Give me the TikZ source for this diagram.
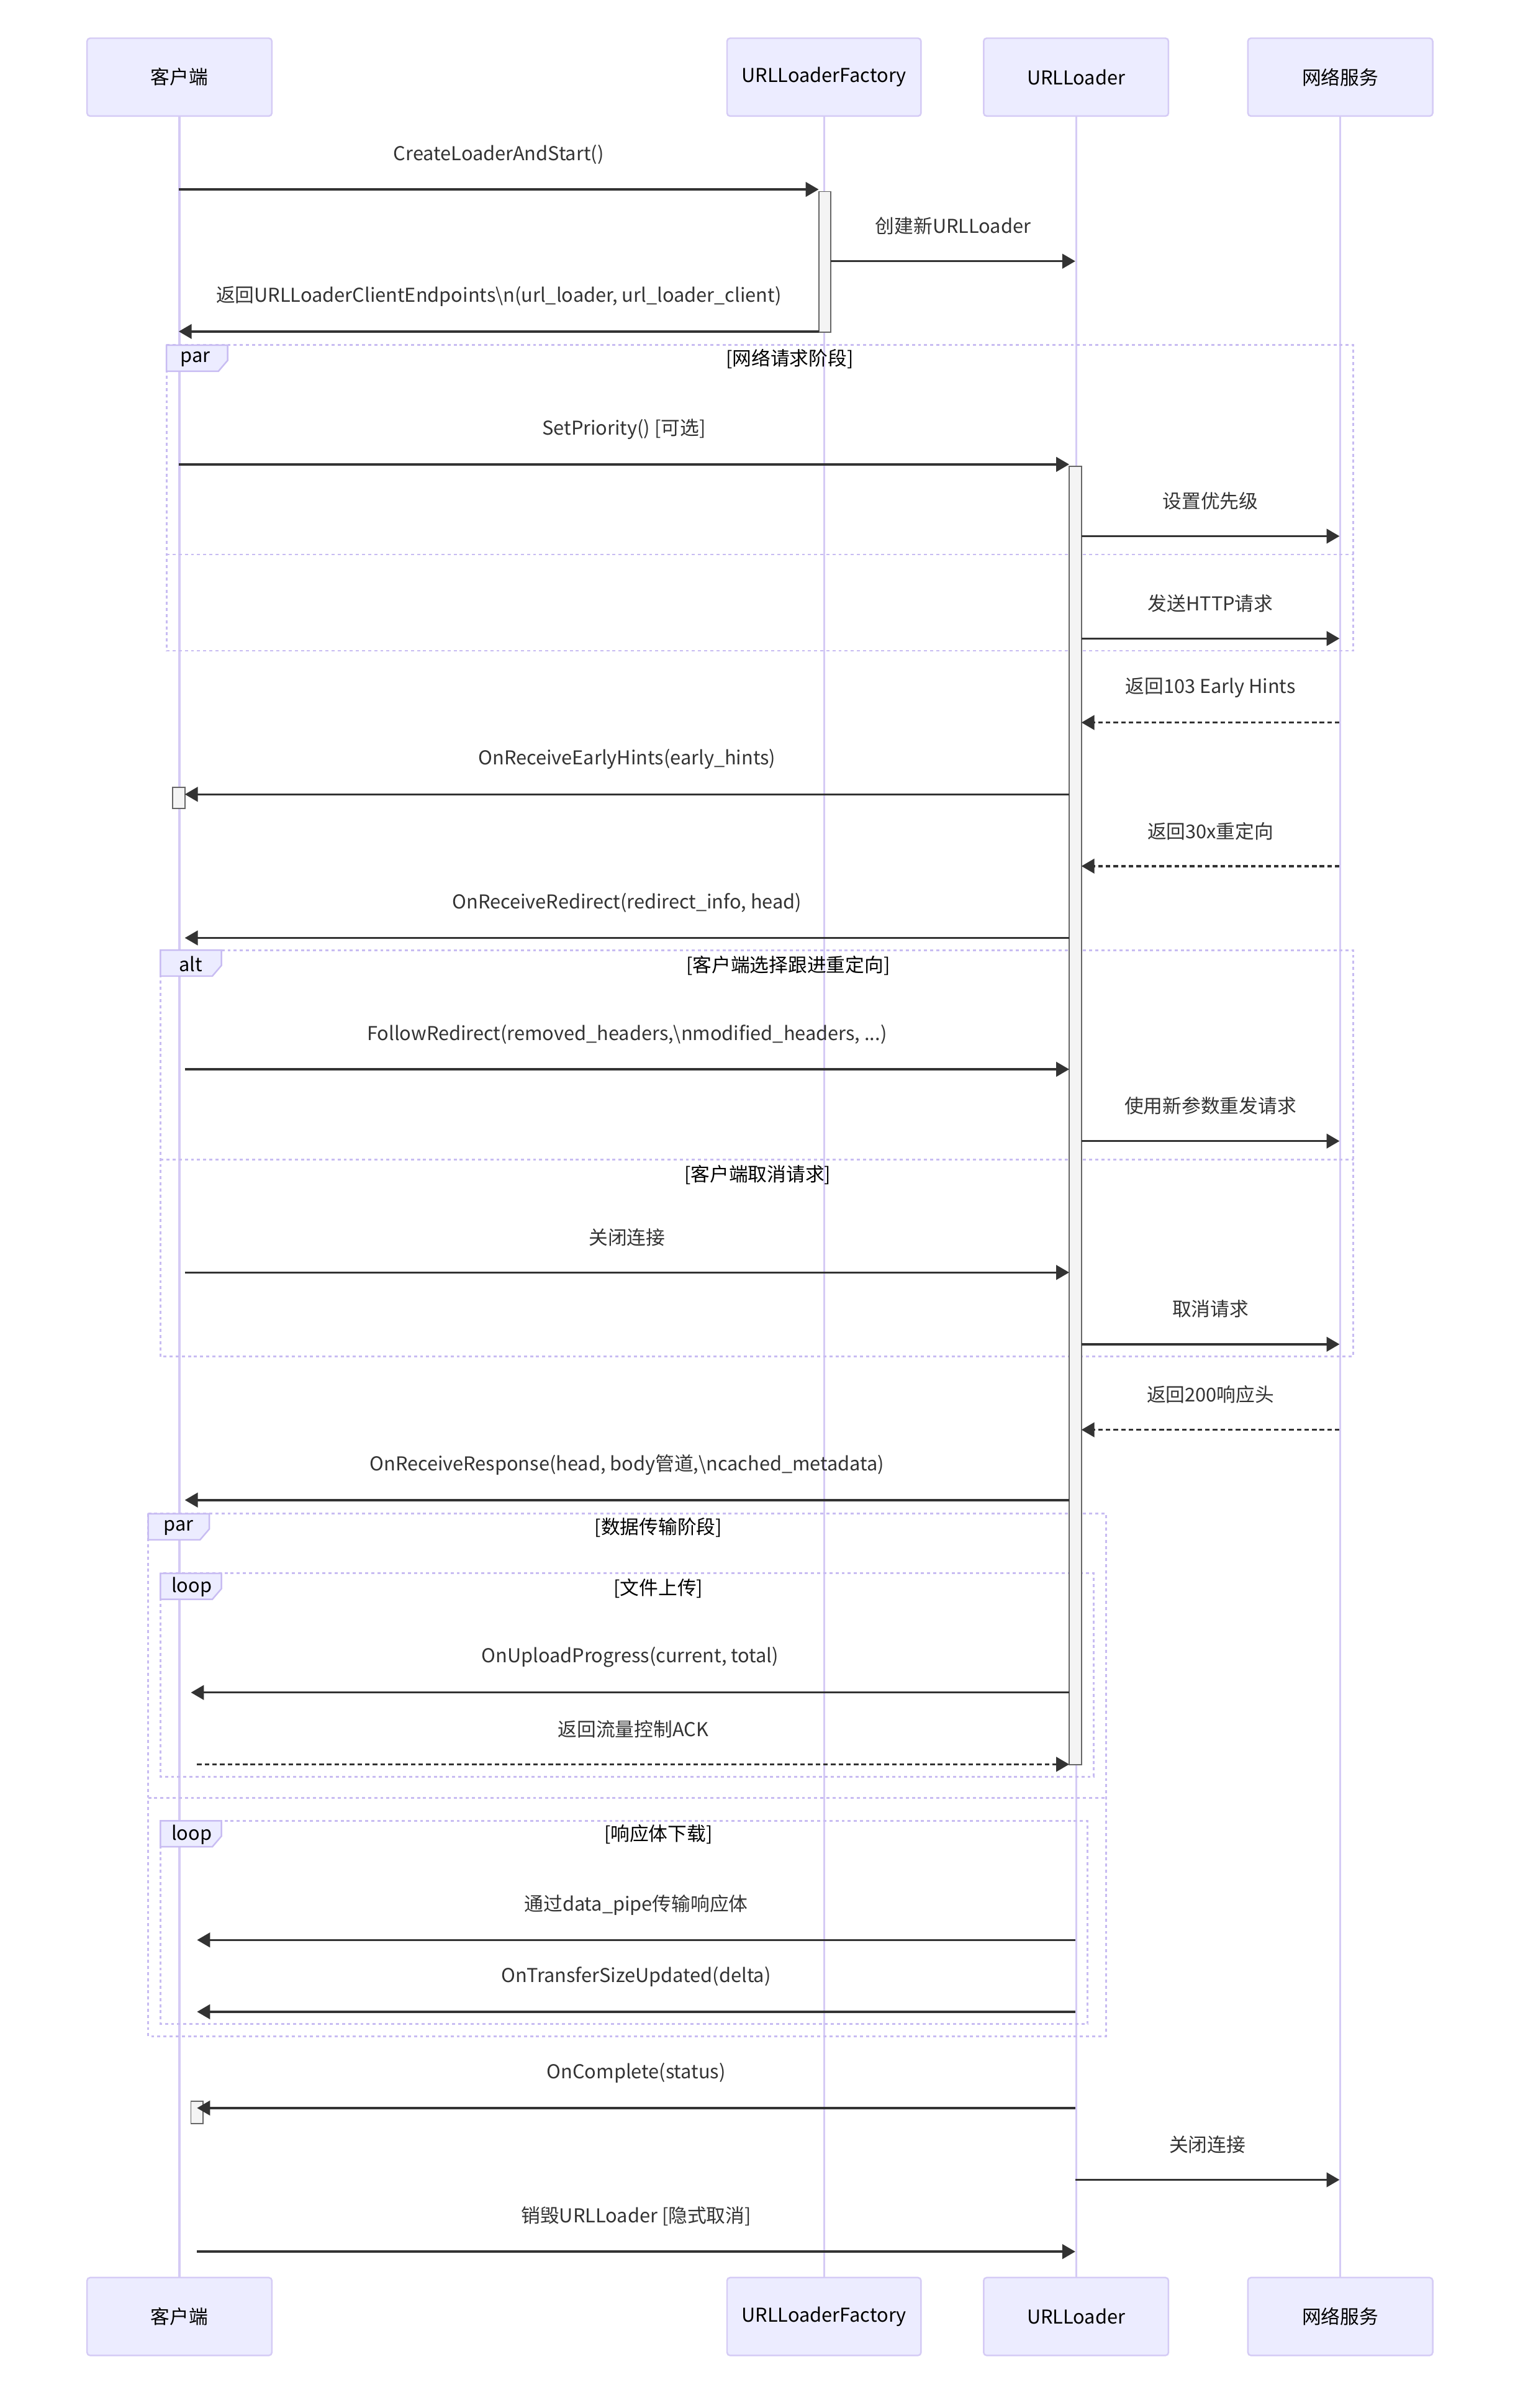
\documentclass[tikz,border=0pt]{standalone}
\usepackage{fontspec}
\setmainfont{Noto Sans CJK SC}
\usetikzlibrary{arrows.meta,calc}
\definecolor{actfill}{HTML}{ECECFF}
\definecolor{actline}{HTML}{D5CBF5}
\definecolor{lifeline}{HTML}{D5CBF5}
\definecolor{arrowc}{HTML}{333333}
\definecolor{labelc}{HTML}{333333}
\definecolor{frameline}{HTML}{C8BCF2}
\definecolor{actbg}{HTML}{F4F4F4}
\definecolor{actstroke}{HTML}{666666}
\newcommand\msg[6]{%
  \coordinate (#1s) at (#3,#2);
  \coordinate (#1e) at (#4,#2);
  \draw[#5] (#1s) -- (#1e);
  \node[lbl] (#1l) at ($(#1s)!0.5!(#1e)+(0,-23)$) {#6};
}
\newcommand\ftag[2]{% x, y
  \draw[ftagstyle] (#1,#2) -- ++(40,0) -- ++(0,10) -- ++(-6,7) -- ++(-34,0) -- cycle;
}
\begin{document}
\begin{tikzpicture}[x=1pt,y=-1pt,
  font=\fontsize{12.5}{15}\selectfont,
  actor/.style={draw=actline, fill=actfill, line width=1pt, rounded corners=2pt,
    minimum width=121pt, minimum height=51pt, inner sep=0pt, text=black},
  life/.style={draw=lifeline, line width=1.3pt},
  solidmsg/.style={draw=arrowc, line width=1.4pt, -{Triangle[length=8.5pt,width=9.5pt]}},
  dashmsg/.style={solidmsg, dash pattern=on 3pt off 2pt},
  lbl/.style={text=labelc, inner sep=1pt},
  act/.style={draw=actstroke, fill=actbg, line width=0.8pt, minimum width=8pt, inner sep=0pt, anchor=north},
  framebox/.style={draw=frameline, line width=1.2pt, dash pattern=on 2pt off 2pt},
  ftitle/.style={text=black, inner sep=1pt},
  ftagstyle/.style={draw=frameline, fill=actfill, line width=1pt},
  tagtext/.style={text=black, inner sep=0pt, anchor=west}
]
\fill[white] (0,0) rectangle (1000,1576.4);
\useasboundingbox (0,0) rectangle (1000,1576.4);

% actors
\node[actor] (cT) at (117.5,50.5) {客户端};
\node[actor, minimum width=127pt] (fT) at (539.5,50.5) {URLLoaderFactory};
\node[actor] (lT) at (704.5,50.5) {URLLoader};
\node[actor] (nT) at (877.5,50.5) {网络服务};
\node[actor] (cB) at (117.5,1516.5) {客户端};
\node[actor, minimum width=127pt] (fB) at (539.5,1516.5) {URLLoaderFactory};
\node[actor] (lB) at (704.5,1516.5) {URLLoader};
\node[actor] (nB) at (877.5,1516.5) {网络服务};

\draw[life] (cT.south) -- (cB.north);
\draw[life] (fT.south) -- (fB.north);
\draw[life] (lT.south) -- (lB.north);
\draw[life] (nT.south) -- (nB.north);

% frames
\draw[framebox] (109,226) rectangle (886,426);
\draw[framebox] (109,363) -- (886,363);
\ftag{109}{226}
\node[tagtext] (par1t) at (118,235) {par};
\node[ftitle] (par1h) at (517,235) {[网络请求阶段]};

\draw[framebox] (105,622) rectangle (886,888);
\draw[framebox] (105,759) -- (886,759);
\ftag{105}{622}
\node[tagtext] (altt) at (117,631) {alt};
\node[ftitle] (alth1) at (516,632) {[客户端选择跟进重定向]};
\node[ftitle] (alth2) at (496,769) {[客户端取消请求]};

\draw[framebox] (97,991) rectangle (724,1333);
\draw[framebox] (97,1177) -- (724,1177);
\ftag{97}{991}
\node[tagtext] (par2t) at (107,1000) {par};
\node[ftitle] (par2h) at (431,1000) {[数据传输阶段]};

\draw[framebox] (105,1030) rectangle (716,1163);
\ftag{105}{1030}
\node[tagtext] (loop1t) at (112,1039) {loop};
\node[ftitle] (loop1h) at (431,1040) {[文件上传]};

\draw[framebox] (105,1192) rectangle (712,1325);
\ftag{105}{1192}
\node[tagtext] (loop2t) at (112,1201) {loop};
\node[ftitle] (loop2h) at (431,1201) {[响应体下载]};

% activations
\node[act, minimum height=92pt] (a1) at (540,125) {};
\node[act, minimum height=850pt] (a2) at (704,305) {};
\node[act, minimum height=14pt] (a3) at (117,515) {};
\node[act, minimum height=15pt] (a4) at (129,1375) {};

% messages
\msg{m1}{124}{117}{536}{solidmsg}{CreateLoaderAndStart()}
\msg{m2}{171}{544}{704}{solidmsg}{创建新URLLoader}
\msg{m3}{217}{536}{117}{solidmsg}{返回URLLoaderClientEndpoints\textbackslash n(url\_loader, url\_loader\_client)}
\msg{m4}{304}{117}{700}{solidmsg}{SetPriority() [可选]}
\msg{m5}{351}{708}{877}{solidmsg}{设置优先级}
\msg{m6}{418}{708}{877}{solidmsg}{发送HTTP请求}
\msg{m7}{473}{877}{708}{dashmsg}{返回103 Early Hints}
\msg{m8}{520}{700}{121}{solidmsg}{OnReceiveEarlyHints(early\_hints)}
\msg{m9}{567}{877}{708}{dashmsg}{返回30x重定向}
\msg{m10}{614}{700}{121}{solidmsg}{OnReceiveRedirect(redirect\_info, head)}
\msg{m11}{700}{121}{700}{solidmsg}{FollowRedirect(removed\_headers,\textbackslash nmodified\_headers, ...)}
\msg{m12}{747}{708}{877}{solidmsg}{使用新参数重发请求}
\msg{m13}{833}{121}{700}{solidmsg}{关闭连接}
\msg{m14}{880}{708}{877}{solidmsg}{取消请求}
\msg{m15}{936}{877}{708}{dashmsg}{返回200响应头}
\msg{m16}{982}{700}{121}{solidmsg}{OnReceiveResponse(head, body管道,\textbackslash ncached\_metadata)}
\msg{m17}{1108}{700}{125}{solidmsg}{OnUploadProgress(current, total)}
\msg{m18}{1155}{129}{700}{dashmsg}{返回流量控制ACK}
\msg{m19}{1270}{704}{129}{solidmsg}{通过data\_pipe传输响应体}
\msg{m20}{1317}{704}{129}{solidmsg}{OnTransferSizeUpdated(delta)}
\msg{m21}{1380}{704}{129}{solidmsg}{OnComplete(status)}
\msg{m22}{1427}{704}{877}{solidmsg}{关闭连接}
\msg{m23}{1474}{129}{704}{solidmsg}{销毁URLLoader [隐式取消]}
\end{tikzpicture}
\end{document}
